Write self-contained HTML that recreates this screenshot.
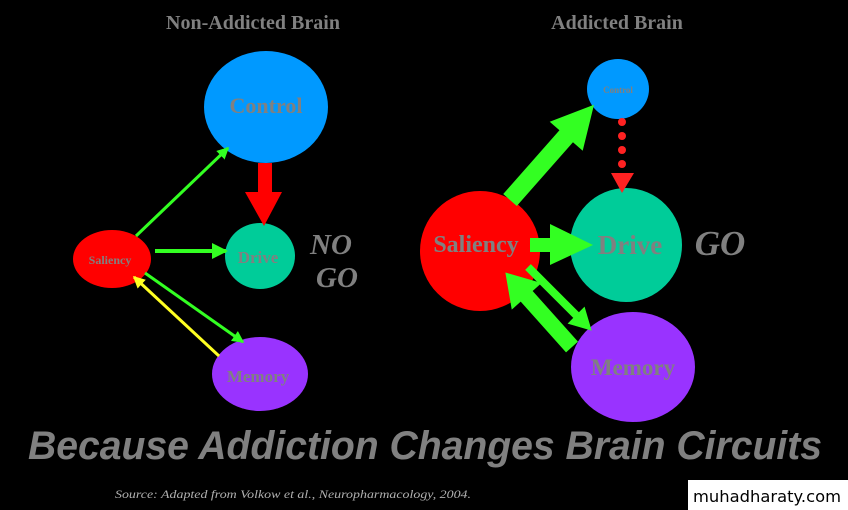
<!DOCTYPE html>
<html><head><meta charset="utf-8"><style>html,body{margin:0;padding:0;background:#000;}svg{display:block}
.b{font-family:"Liberation Serif",serif;font-weight:700;fill:#808080}
</style></head>
<body>
<svg width="848" height="510" viewBox="0 0 848 510" xmlns="http://www.w3.org/2000/svg">
<defs>
<marker id="mg" markerWidth="4" markerHeight="4" refX="3.5" refY="2" orient="auto" markerUnits="strokeWidth"><path d="M0,0 L4,2 L0,4 Z" fill="#33ff22"/></marker>
<marker id="my" markerWidth="4" markerHeight="4" refX="3.5" refY="2" orient="auto" markerUnits="strokeWidth"><path d="M0,0 L4,2 L0,4 Z" fill="#ffff22"/></marker>
</defs>
<rect width="848" height="510" fill="#000"/>
<g class="b">
<text x="253" y="29" font-size="20" text-anchor="middle">Non-Addicted Brain</text>
<text x="617" y="29" font-size="20" text-anchor="middle">Addicted Brain</text>
</g>
<ellipse cx="266" cy="107" rx="62" ry="56" fill="#0099ff"/>
<ellipse cx="260" cy="256" rx="35" ry="33" fill="#00cc99"/>
<ellipse cx="112" cy="259" rx="39" ry="29" fill="#ff0000"/>
<ellipse cx="260" cy="374" rx="48" ry="37" fill="#9933ff"/>
<polygon points="258,163 272,163 272,192 282,192 264,226 245,192 258,192" fill="#ff0000"/>
<line x1="136" y1="236" x2="228" y2="148" stroke="#33ff22" stroke-width="3" marker-end="url(#mg)"/>
<line x1="155" y1="251" x2="226" y2="251" stroke="#33ff22" stroke-width="4" marker-end="url(#mg)"/>
<line x1="145" y1="273" x2="243" y2="342" stroke="#33ff22" stroke-width="3" marker-end="url(#mg)"/>
<line x1="219" y1="356" x2="134" y2="277" stroke="#ffff22" stroke-width="3" marker-end="url(#my)"/>
<g class="b" text-anchor="middle">
<text x="266" y="113" font-size="22">Control</text>
<text x="258" y="263" font-size="17">Drive</text>
<text x="110" y="264" font-size="12">Saliency</text>
<text x="258" y="382" font-size="17">Memory</text>
<text x="331" y="254" font-size="29" font-style="italic">NO</text>
<text x="337" y="287" font-size="29" font-style="italic">GO</text>
</g>
<ellipse cx="618" cy="89" rx="31" ry="30" fill="#0099ff"/>
<ellipse cx="626" cy="245" rx="56" ry="57" fill="#00cc99"/>
<circle cx="480" cy="251" r="60" fill="#ff0000"/>
<ellipse cx="633" cy="367" rx="62" ry="55" fill="#9933ff"/>
<g fill="#ff2222">
<circle cx="622" cy="122" r="4"/><circle cx="622" cy="136" r="4"/><circle cx="622" cy="150" r="4"/><circle cx="622" cy="164" r="4"/>
<polygon points="611,173 634,173 622,193"/>
</g>
<g fill="#33ff22">
<polygon transform="translate(510,200) rotate(-48.6)" points="0,-9 85,-9 85,-22 127,0 85,22 85,9 0,9"/>
<polygon points="530,238 550,238 550,224 593,245 550,265 550,252 530,252"/>
<polygon transform="translate(572,347) rotate(-131.8)" points="0,-8 68,-8 68,-20 100,0 68,20 68,8 0,8"/>
<polygon transform="translate(528,267) rotate(45)" points="0,-4 68,-4 68,-12 90,0 68,12 68,4 0,4"/>
</g>
<g class="b" text-anchor="middle">
<text x="618" y="93" font-size="9">Control</text>
<text x="630" y="254" font-size="27">Drive</text>
<text x="476" y="252" font-size="24">Saliency</text>
<text x="633" y="375" font-size="23">Memory</text>
<text x="720" y="255" font-size="35" font-style="italic">GO</text>
</g>
<text x="28" y="459" style="font-family:'Liberation Sans',sans-serif;font-weight:700;font-style:italic" font-size="40" fill="#808080" textLength="794" lengthAdjust="spacingAndGlyphs">Because Addiction Changes Brain Circuits</text>
<text x="115" y="498" style="font-family:'Liberation Serif',serif;font-style:italic" font-size="12" fill="#b0b0b0" textLength="356" lengthAdjust="spacingAndGlyphs">Source: Adapted from Volkow et al., Neuropharmacology, 2004.</text>
<rect x="688" y="480" width="160" height="30" fill="#fff"/>
<text x="767" y="502" style="font-family:'DejaVu Sans',sans-serif" font-size="16" fill="#000" text-anchor="middle" textLength="148" lengthAdjust="spacingAndGlyphs">muhadharaty.com</text>
</svg>
</body></html>
